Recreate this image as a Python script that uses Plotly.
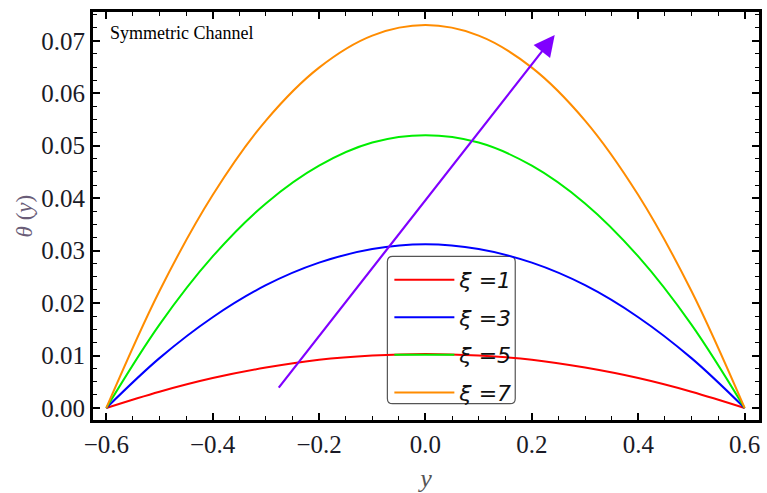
import plotly.graph_objects as go

# Data
y_pos = [-0.6, -0.5, -0.4, -0.3, -0.2, -0.1, 0.0, 0.1, 0.2, 0.3, 0.4, 0.5, 0.6]
theta_xi1 = [0.0, 0.0031, 0.0057, 0.0077, 0.0092, 0.0100, 0.0103, 0.0100, 0.0092, 0.0077, 0.0057, 0.0031, 0.0]
theta_xi3 = [0.0, 0.0095, 0.0173, 0.0234, 0.0277, 0.0303, 0.0312, 0.0303, 0.0277, 0.0234, 0.0173, 0.0095, 0.0]
theta_xi5 = [0.0, 0.0159, 0.0289, 0.0390, 0.0462, 0.0506, 0.0520, 0.0506, 0.0462, 0.0390, 0.0289, 0.0159, 0.0]
theta_xi7 = [0.0, 0.0223, 0.0406, 0.0548, 0.0649, 0.0710, 0.0730, 0.0710, 0.0649, 0.0548, 0.0406, 0.0223, 0.0]

series_names = ["ξ =1", "ξ =3", "ξ =5", "ξ =7"]
series_values = [theta_xi1, theta_xi3, theta_xi5, theta_xi7]
series_colors = ["#ff0000", "#0000ff", "#00ee00", "#ff8c00"]

x_ticks = [-0.6, -0.4, -0.2, 0.0, 0.2, 0.4, 0.6]
y_ticks = [0.00, 0.01, 0.02, 0.03, 0.04, 0.05, 0.06, 0.07]

fig = go.Figure()
for i, (name, vals, col) in enumerate(zip(series_names, series_values, series_colors)):
    fig.add_trace(go.Scatter(
        x=y_pos, y=vals, mode="lines", name=f"<i>{name}</i>",
        line=dict(color=col, width=2, shape="spline", smoothing=1.0),
        legendgroup=f"g{i}",
    ))

serif = "Liberation Serif"

fig.update_layout(
    width=767, height=493,
    margin=dict(l=92, r=5, t=12, b=70),
    paper_bgcolor="white", plot_bgcolor="white",
    font=dict(family=serif, size=25, color="#1a1a26"),
    showlegend=True,
    legend=dict(
        x=0.445, y=0.395, xanchor="left", yanchor="top",
        bgcolor="rgba(0,0,0,0)", borderwidth=0,
        font=dict(family="DejaVu Sans", size=22, color="#111111"),
        tracegroupgap=6, itemwidth=60,
    ),
    xaxis=dict(
        range=[-0.625, 0.627],
        tickvals=x_ticks, ticktext=[f"{v:.1f}".replace("-", "\u2212") for v in x_ticks],
        ticks="inside", ticklen=7, tickwidth=1.5, tickcolor="black",
        showline=True, linecolor="black", linewidth=3, mirror="allticks",
        showgrid=False, zeroline=False,
        tickfont=dict(family=serif, size=25, color="#1a1a26"),
        minor=dict(dtick=0.05, ticks="inside", ticklen=4, tickcolor="black", tickwidth=1),
        title=dict(text="<i>y</i>", font=dict(family=serif, size=26, color="#555555"), standoff=12),
    ),
    yaxis=dict(
        range=[-0.0023, 0.0755],
        tickvals=y_ticks, ticktext=[f"{v:.2f}" for v in y_ticks],
        ticks="inside", ticklen=7, tickwidth=1.5, tickcolor="black",
        showline=True, linecolor="black", linewidth=3, mirror="allticks",
        showgrid=False, zeroline=False,
        tickfont=dict(family=serif, size=25, color="#1a1a26"),
        minor=dict(dtick=0.0025, ticks="inside", ticklen=4, tickcolor="black", tickwidth=1),
        title=dict(text=""),
    ),
)

# y-axis title placed as rotated annotation
fig.add_annotation(text="<i>θ</i> (<i>y</i>)", xref="paper", yref="paper",
                   x=-0.103, y=0.5, xanchor="center", yanchor="middle", textangle=-90,
                   showarrow=False, font=dict(family=serif, size=23, color="#6a5d78"))

# rounded legend frame
x0, x1 = 0.442, 0.634
y0, y1 = 0.040, 0.401
rx, ry = 0.008, 0.013
path = (f"M {x0+rx},{y0} L {x1-rx},{y0} Q {x1},{y0} {x1},{y0+ry} "
        f"L {x1},{y1-ry} Q {x1},{y1} {x1-rx},{y1} L {x0+rx},{y1} "
        f"Q {x0},{y1} {x0},{y1-ry} L {x0},{y0+ry} Q {x0},{y0} {x0+rx},{y0} Z")
fig.add_shape(type="path", path=path, xref="paper", yref="paper",
              line=dict(color="#555555", width=1.2), fillcolor="white", layer="below")

fig.add_annotation(text="Symmetric Channel", xref="paper", yref="paper",
                   x=0.022, y=0.948, xanchor="left", yanchor="middle", showarrow=False,
                   font=dict(family=serif, size=18, color="black"))

# arrow
fig.add_annotation(x=0.243, y=0.0711, ax=-0.278, ay=0.0036,
                   xref="x", yref="y", axref="x", ayref="y",
                   text="", showarrow=True, arrowhead=2, arrowsize=1.9,
                   arrowwidth=2.2, arrowcolor="#8000ff")

fig.write_html("out.html")
